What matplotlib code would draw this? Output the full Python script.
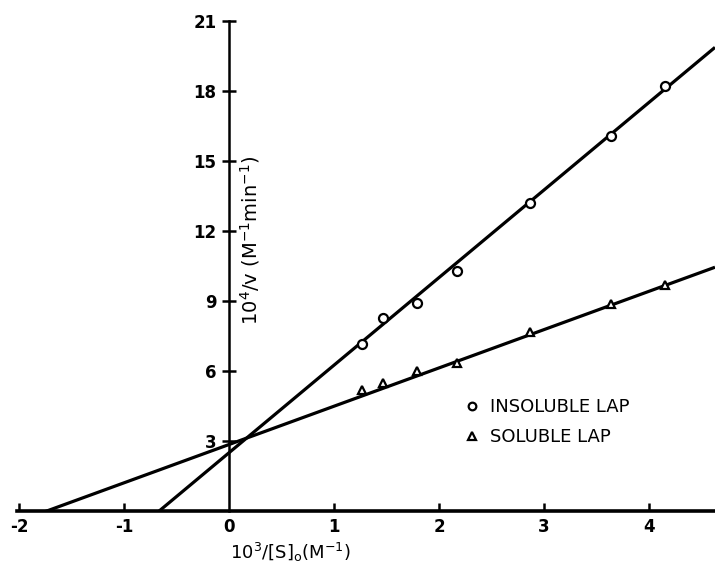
import numpy as np
import matplotlib
matplotlib.use("Agg")
import matplotlib.pyplot as plt
from matplotlib.lines import Line2D

# 1/[S]0 values (x 10^3, M^-1)
inv_s = [1.27, 1.47, 1.79, 2.17, 2.87, 3.64, 4.15]
# 1/v values (x 10^4)
insoluble = [7.16, 8.26, 8.90, 10.30, 13.19, 16.07, 18.19]
soluble = [5.19, 5.50, 6.01, 6.33, 7.66, 8.87, 9.69]

# fitted lines: (intercept, slope)
insoluble_fit = (2.50, 3.75)
soluble_fit = (2.85, 1.64)

x_ticks = [-2, -1, 0, 1, 2, 3, 4]
y_ticks = [3, 6, 9, 12, 15, 18, 21]

plt.rcParams['font.family'] = ['DejaVu Sans']

fig = plt.figure(figsize=(7.15, 5.70), dpi=100)
ax = fig.add_axes([0.024, 0.1035, 0.976, 0.86])

ax.set_xlim(-2.02, 4.63)
ax.set_ylim(0, 21)

# regression lines, clipped at the x axis
xx = np.array([-2.02, 4.63])
for b, m in (insoluble_fit, soluble_fit):
    ax.plot(xx, b + m * xx, color='black', lw=2.3, solid_capstyle='butt', zorder=2)

ax.plot(inv_s, insoluble, linestyle='none', marker='o', ms=6.5, mfc='white',
        mec='black', mew=1.6, zorder=3)
ax.plot(inv_s, soluble, linestyle='none', marker='^', ms=6, mfc='white',
        mec='black', mew=1.6, zorder=3)

# axes drawn through the origin
for s in ('top', 'right'):
    ax.spines[s].set_visible(False)
ax.spines['left'].set_position(('data', 0))
ax.spines['left'].set_linewidth(1.8)
ax.spines['bottom'].set_linewidth(2.6)

ax.set_xticks(x_ticks)
ax.set_xticklabels([str(t) for t in x_ticks])
ax.set_yticks(y_ticks)
ax.set_yticklabels([str(t) for t in y_ticks])
ax.tick_params(axis='x', direction='in', length=6, width=1.8, pad=5,
               labelsize=12)
ax.tick_params(axis='y', direction='inout', length=10, width=1.8, pad=4,
               labelsize=12)
for lab in ax.get_xticklabels() + ax.get_yticklabels():
    lab.set_fontweight('bold')
ax.xaxis.get_major_ticks()[2].tick1line.set_visible(False)

ax.text(0.391, -0.062, r'$\mathregular{10^3/[S]_o(M^{-1})}$', transform=ax.transAxes,
        ha='center', va='top', fontsize=13)
ax.text(0.334, 0.553, r'$\mathregular{10^4/v\ (M^{-1}min^{-1})}$', transform=ax.transAxes,
        rotation=90, ha='center', va='center', fontsize=14)

handles = [
    Line2D([], [], linestyle='none', marker='o', ms=5.5, mfc='white', mec='black',
           mew=1.6, label='INSOLUBLE LAP'),
    Line2D([], [], linestyle='none', marker='^', ms=5.5, mfc='white', mec='black',
           mew=1.6, label='SOLUBLE LAP'),
]
ax.legend(handles=handles, loc='upper left', bbox_to_anchor=(0.628, 0.248),
          frameon=False, fontsize=13, handlelength=0.8, handletextpad=0.6,
          labelspacing=0.65, borderpad=0)

fig.savefig('out.png', dpi=100)
